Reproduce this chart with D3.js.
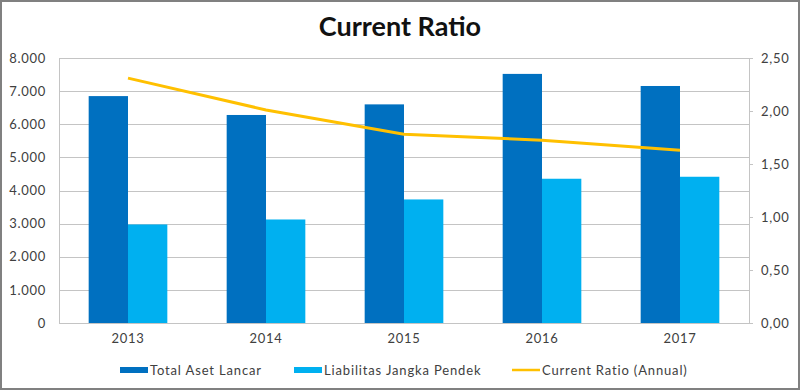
<!DOCTYPE html>
<html>
<head>
<meta charset="utf-8">
<script src="https://cdn.jsdelivr.net/npm/d3@7"></script>
<style>
  html, body { margin: 0; padding: 0; background: #fff; }
  svg { display: block; font-family: Lato, "Open Sans", sans-serif; }
</style>
</head>
<body>
<div id="chart"></div>
<script>
// data
var years = ["2013", "2014", "2015", "2016", "2017"];
var totalAset = [6850, 6280, 6600, 7520, 7155];
var liabilitas = [2975, 3125, 3730, 4355, 4415];
var currentRatio = [2.31, 2.01, 1.78, 1.725, 1.63];
var leftTicks = [0, 1000, 2000, 3000, 4000, 5000, 6000, 7000, 8000];
var rightTicks = [0, 0.5, 1, 1.5, 2, 2.5];
var seriesNames = ["Total Aset Lancar", "Liabilitas Jangka Pendek", "Current Ratio (Annual)"];

var svgWidth = 800;
var svgHeight = 391;

var margin = {
  top: 58,
  right: 51,
  bottom: 68,
  left: 59
};

var width = svgWidth - margin.left - margin.right;
var height = svgHeight - margin.top - margin.bottom;

var colors = ["#0070C0", "#00B0F0", "#FFC000"];
var textColor = "#404040";
var gridColor = "#c4c4c4";

// Indonesian number format: dot thousands, comma decimals
var idLocale = d3.formatLocale({
  decimal: ",",
  thousands: ".",
  grouping: [3],
  currency: ["Rp", ""]
});

var svg = d3.select("#chart")
  .append("svg")
  .attr("width", svgWidth)
  .attr("height", svgHeight);

// outer frame
svg.append("rect")
  .attr("x", 1)
  .attr("y", 1)
  .attr("width", svgWidth - 2)
  .attr("height", svgHeight - 3)
  .attr("fill", "#fff")
  .attr("stroke", "#808080")
  .attr("stroke-width", 2);

// title
svg.append("text")
  .attr("x", svgWidth / 2)
  .attr("y", 36)
  .attr("text-anchor", "middle")
  .attr("font-size", 27)
  .attr("font-weight", "bold")
  .attr("fill", "#111")
  .text("Current Ratio");

var chartGroup = svg.append("g")
  .attr("transform", `translate(${margin.left}, ${margin.top})`);

// scales
var xScale = d3.scaleBand()
  .domain(years)
  .range([0, width])
  .paddingInner(0.43)
  .paddingOuter(0.215);

var xSub = d3.scaleBand()
  .domain([0, 1])
  .range([0, xScale.bandwidth()]);

var yLeft = d3.scaleLinear()
  .domain([0, 8000])
  .range([height, 0]);

var yRight = d3.scaleLinear()
  .domain([0, 2.5])
  .range([height, 0]);

// gridlines
chartGroup.append("g")
  .selectAll("line")
  .data(leftTicks)
  .enter()
  .append("line")
  .attr("x1", 0)
  .attr("x2", width)
  .attr("y1", d => Math.round(yLeft(d)) + 0.5)
  .attr("y2", d => Math.round(yLeft(d)) + 0.5)
  .attr("stroke", gridColor)
  .attr("stroke-width", 1);

// left axis
var leftAxis = d3.axisLeft(yLeft)
  .tickValues(leftTicks)
  .tickSize(0)
  .tickPadding(13)
  .tickFormat(idLocale.format(",d"));

var yAxisLeft = chartGroup.append("g")
  .call(leftAxis);

// right axis
var rightAxis = d3.axisRight(yRight)
  .tickValues(rightTicks)
  .tickSize(4)
  .tickPadding(8)
  .tickFormat(idLocale.format(",.2f"));

var yAxisRight = chartGroup.append("g")
  .attr("transform", `translate(${width}, 0)`)
  .call(rightAxis);

// bottom axis
var bottomAxis = d3.axisBottom(xScale)
  .tickSize(0)
  .tickPadding(11);

var xAxis = chartGroup.append("g")
  .attr("transform", `translate(0, ${height})`)
  .call(bottomAxis);

[yAxisLeft, yAxisRight, xAxis].forEach(function(ax) {
  ax.selectAll("path").attr("stroke", gridColor);
  ax.selectAll("line").attr("stroke", gridColor);
  ax.selectAll("text")
    .attr("fill", textColor)
    .attr("font-size", 13)
    .attr("letter-spacing", 0.7)
    .attr("font-family", "Lato, sans-serif");
});
xAxis.select(".domain").remove();

// bars
var barData = years.map(function(y, i) {
  return { year: y, values: [totalAset[i], liabilitas[i]] };
});

var groups = chartGroup.selectAll(".year-group")
  .data(barData)
  .enter()
  .append("g")
  .attr("class", "year-group")
  .attr("transform", d => `translate(${xScale(d.year)}, 0)`);

groups.selectAll("rect")
  .data(d => d.values)
  .enter()
  .append("rect")
  .attr("x", (d, i) => xSub(i))
  .attr("y", d => yLeft(d))
  .attr("width", xSub.bandwidth())
  .attr("height", d => height - yLeft(d))
  .attr("fill", (d, i) => colors[i]);

// current ratio line
var line = d3.line()
  .x((d, i) => xScale(years[i]) + xScale.bandwidth() / 2)
  .y(d => yRight(d));

chartGroup.append("path")
  .datum(currentRatio)
  .attr("d", line)
  .attr("fill", "none")
  .attr("stroke", colors[2])
  .attr("stroke-width", 3)
  .attr("stroke-linejoin", "round");

// legend
var legendItems = [
  { name: seriesNames[0], x: 120, type: "bar" },
  { name: seriesNames[1], x: 294, type: "bar" },
  { name: seriesNames[2], x: 512, type: "line" }
];

var legend = svg.append("g")
  .attr("transform", "translate(0, 370)");

legendItems.forEach(function(item, i) {
  if (item.type === "bar") {
    legend.append("rect")
      .attr("x", item.x)
      .attr("y", -3)
      .attr("width", 28)
      .attr("height", 6)
      .attr("fill", colors[i]);
  } else {
    legend.append("line")
      .attr("x1", item.x)
      .attr("x2", item.x + 28)
      .attr("y1", 0)
      .attr("y2", 0)
      .attr("stroke", colors[i])
      .attr("stroke-width", 2.5);
  }
  legend.append("text")
    .attr("x", item.x + 30)
    .attr("y", 0)
    .attr("dy", "0.35em")
    .attr("font-size", 13)
    .attr("letter-spacing", 0.85)
    .attr("fill", textColor)
    .text(item.name);
});
</script>
</body>
</html>
